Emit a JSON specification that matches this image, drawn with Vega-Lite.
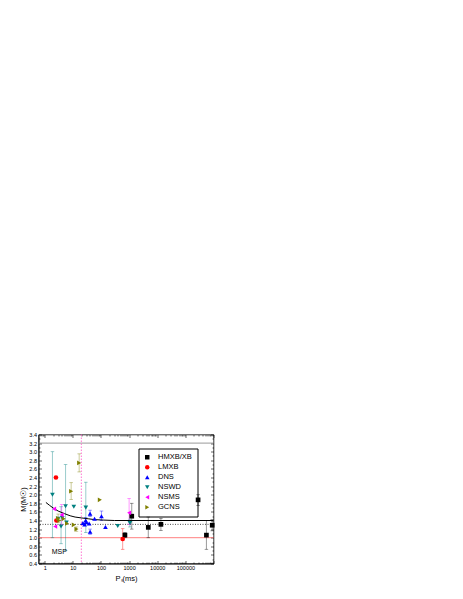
{
  "$schema": "https://vega.github.io/schema/vega-lite/v6.json",
  "width": 175,
  "height": 129,
  "autosize": {"type": "none"},
  "padding": {"left": 38.5, "top": 434.5, "right": 249.5, "bottom": 35.5},
  "background": "white",
  "config": {
    "view": {"stroke": "#000", "strokeWidth": 0.8},
    "font": "Liberation Sans",
    "axis": {"grid": false, "domainColor": "#000", "tickColor": "#000", "labelColor": "#000", "titleColor": "#000", "labelFont": "Liberation Sans", "titleFont": "Liberation Sans", "titleFontWeight": "normal", "labelFontSize": 5.5, "titleFontSize": 7.5, "domainWidth": 0.8, "tickWidth": 0.6}
  },
  "datasets": {
    "pts": [
      {"c": "HMXB/XB", "P": 710, "M": 1.06, "lo": 1.0, "hi": 1.12},
      {"c": "HMXB/XB", "P": 1240, "M": 1.5, "lo": 1.2, "hi": 1.8},
      {"c": "HMXB/XB", "P": 4800, "M": 1.24, "lo": 1.0, "hi": 1.48},
      {"c": "HMXB/XB", "P": 13500, "M": 1.31, "lo": 1.17, "hi": 1.45},
      {"c": "HMXB/XB", "P": 283000, "M": 1.88, "lo": 1.75, "hi": 2.0},
      {"c": "HMXB/XB", "P": 560000, "M": 1.06, "lo": 0.73, "hi": 1.4},
      {"c": "HMXB/XB", "P": 900000, "M": 1.29, "lo": 1.16, "hi": 1.42},
      {"c": "LMXB", "P": 2.5, "M": 2.4},
      {"c": "LMXB", "P": 2.6, "M": 1.4},
      {"c": "LMXB", "P": 590, "M": 0.97, "lo": 0.73, "hi": 1.21},
      {"c": "DNS", "P": 22.7, "M": 1.34},
      {"c": "DNS", "P": 26, "M": 1.31},
      {"c": "DNS", "P": 28.5, "M": 1.4, "lo": 1.33, "hi": 1.47},
      {"c": "DNS", "P": 30.5, "M": 1.36},
      {"c": "DNS", "P": 37.9, "M": 1.33},
      {"c": "DNS", "P": 40.9, "M": 1.56, "lo": 1.49, "hi": 1.64},
      {"c": "DNS", "P": 41, "M": 1.14, "lo": 1.08, "hi": 1.2},
      {"c": "DNS", "P": 59, "M": 1.44},
      {"c": "DNS", "P": 104, "M": 1.5, "lo": 1.4, "hi": 1.62},
      {"c": "DNS", "P": 144, "M": 1.25},
      {"c": "NSWD", "P": 1.88, "M": 2.0, "lo": 1.0, "hi": 3.0},
      {"c": "NSWD", "P": 2.95, "M": 1.44},
      {"c": "NSWD", "P": 3.8, "M": 1.26, "lo": 0.86, "hi": 1.72},
      {"c": "NSWD", "P": 4.2, "M": 1.46},
      {"c": "NSWD", "P": 5.5, "M": 1.73, "lo": 0.7, "hi": 2.7},
      {"c": "NSWD", "P": 5.9, "M": 1.35},
      {"c": "NSWD", "P": 10.8, "M": 1.72},
      {"c": "NSWD", "P": 28.85, "M": 1.7, "lo": 1.12, "hi": 2.29},
      {"c": "NSWD", "P": 394, "M": 1.27},
      {"c": "NSWD", "P": 1066, "M": 1.34, "lo": 1.25, "hi": 1.43},
      {"c": "NSMS", "P": 2.15, "M": 1.67},
      {"c": "NSMS", "P": 2.35, "M": 1.26},
      {"c": "NSMS", "P": 4.0, "M": 1.53, "lo": 1.3, "hi": 1.77},
      {"c": "NSMS", "P": 1000, "M": 1.58, "lo": 1.31, "hi": 1.91},
      {"c": "GCNS", "P": 16.76, "M": 2.74, "lo": 2.53, "hi": 2.95},
      {"c": "GCNS", "P": 8.7, "M": 2.08, "lo": 1.89, "hi": 2.28},
      {"c": "GCNS", "P": 91, "M": 1.88},
      {"c": "GCNS", "P": 10.8, "M": 1.3},
      {"c": "GCNS", "P": 13.4, "M": 1.2, "lo": 1.15, "hi": 1.25},
      {"c": "GCNS", "P": 3.3, "M": 1.4},
      {"c": "GCNS", "P": 4.7, "M": 1.44},
      {"c": "GCNS", "P": 6.2, "M": 1.33},
      {"c": "GCNS", "P": 3.0, "M": 1.45, "lo": 1.35, "hi": 1.55}
    ],
    "curve": [
      {"P": 1.1, "M": 1.82}, {"P": 1.5, "M": 1.75}, {"P": 2, "M": 1.69}, {"P": 3, "M": 1.62},
      {"P": 5, "M": 1.56}, {"P": 8, "M": 1.51}, {"P": 12, "M": 1.48}, {"P": 20, "M": 1.46},
      {"P": 35, "M": 1.44}, {"P": 60, "M": 1.42}, {"P": 120, "M": 1.41}, {"P": 300, "M": 1.4},
      {"P": 1000, "M": 1.4}, {"P": 1000000, "M": 1.4}
    ]
  },
  "layer": [
    {
      "data": {"values": [{"M": 3.2}]},
      "mark": {"type": "rule", "color": "#808080", "strokeWidth": 0.8},
      "encoding": {"y": {"field": "M", "type": "quantitative", "scale": {"domain": [0.4, 3.4], "nice": false, "zero": false}, "axis": null}}
    },
    {
      "data": {"values": [{"M": 1.0}]},
      "mark": {"type": "rule", "color": "#ff6060", "strokeWidth": 0.8},
      "encoding": {"y": {"field": "M", "type": "quantitative", "scale": {"domain": [0.4, 3.4], "nice": false, "zero": false}, "axis": null}}
    },
    {
      "data": {"values": [{"M": 1.31}]},
      "mark": {"type": "rule", "color": "#000", "strokeWidth": 0.7, "strokeDash": [1, 1.5]},
      "encoding": {"y": {"field": "M", "type": "quantitative", "scale": {"domain": [0.4, 3.4], "nice": false, "zero": false}, "axis": null}}
    },
    {
      "data": {"values": [{"P": 20}]},
      "mark": {"type": "rule", "color": "#ff66cc", "strokeWidth": 0.9, "strokeDash": [1.5, 1.5]},
      "encoding": {"x": {"field": "P", "type": "quantitative", "scale": {"type": "log", "domain": [0.6, 1000000], "nice": false}, "axis": null}}
    },
    {
      "data": {"name": "pts"},
      "transform": [{"filter": "isValid(datum.lo)"}],
      "mark": {"type": "rule", "strokeWidth": 0.8, "opacity": 0.5},
      "encoding": {
        "x": {"field": "P", "type": "quantitative", "scale": {"type": "log", "domain": [0.6, 1000000], "nice": false}, "axis": null},
        "y": {"field": "lo", "type": "quantitative", "scale": {"domain": [0.4, 3.4], "nice": false, "zero": false}, "axis": null},
        "y2": {"field": "hi"},
        "color": {"field": "c", "type": "nominal", "scale": {"domain": ["HMXB/XB", "LMXB", "DNS", "NSWD", "NSMS", "GCNS"], "range": ["#000000", "#ff0000", "#0000ff", "#008080", "#ff00ff", "#808000"]}, "legend": null}
      }
    },
    {
      "data": {"name": "pts"},
      "transform": [{"filter": "isValid(datum.lo)"}, {"fold": ["lo", "hi"], "as": ["k", "v"]}],
      "mark": {"type": "tick", "orient": "horizontal", "size": 3.5, "thickness": 0.8, "opacity": 0.5},
      "encoding": {
        "x": {"field": "P", "type": "quantitative", "scale": {"type": "log", "domain": [0.6, 1000000], "nice": false}, "axis": null},
        "y": {"field": "v", "type": "quantitative", "scale": {"domain": [0.4, 3.4], "nice": false, "zero": false}, "axis": null},
        "color": {"field": "c", "type": "nominal", "scale": {"domain": ["HMXB/XB", "LMXB", "DNS", "NSWD", "NSMS", "GCNS"], "range": ["#000000", "#ff0000", "#0000ff", "#008080", "#ff00ff", "#808000"]}, "legend": null}
      }
    },
    {
      "data": {"name": "curve"},
      "mark": {"type": "line", "color": "#000", "strokeWidth": 1},
      "encoding": {
        "x": {"field": "P", "type": "quantitative", "scale": {"type": "log", "domain": [0.6, 1000000], "nice": false},
          "axis": {"orient": "top", "labels": false, "title": null, "domain": false,
            "values": [0.7,0.8,0.9,1,2,3,4,5,6,7,8,9,10,20,30,40,50,60,70,80,90,100,200,300,400,500,600,700,800,900,1000,2000,3000,4000,5000,6000,7000,8000,9000,10000,20000,30000,40000,50000,60000,70000,80000,90000,100000,200000,300000,400000,500000,600000,700000,800000,900000,1000000],
            "tickSize": {"condition": {"test": "abs(log(datum.value)/LN10 - round(log(datum.value)/LN10)) < 0.001", "value": -3}, "value": -1.5}}},
        "y": {"field": "M", "type": "quantitative", "scale": {"domain": [0.4, 3.4], "nice": false, "zero": false},
          "axis": {"orient": "right", "labels": false, "title": null, "domain": false,
            "values": [0.4,0.5,0.6,0.7,0.8,0.9,1.0,1.1,1.2,1.3,1.4,1.5,1.6,1.7,1.8,1.9,2.0,2.1,2.2,2.3,2.4,2.5,2.6,2.7,2.8,2.9,3.0,3.1,3.2,3.3,3.4],
            "tickSize": {"condition": {"test": "round(datum.value*10) % 2 == 0", "value": -3}, "value": -1.5}}}
      }
    },
    {
      "data": {"name": "pts"},
      "mark": {"type": "point", "filled": true, "opacity": 1, "size": 22},
      "encoding": {
        "x": {"field": "P", "type": "quantitative", "scale": {"type": "log", "domain": [0.6, 1000000], "nice": false},
          "axis": {"orient": "bottom", "title": "Pₛ(ms)", "titlePadding": 3, "labelPadding": 5,
            "values": [0.7,0.8,0.9,1,2,3,4,5,6,7,8,9,10,20,30,40,50,60,70,80,90,100,200,300,400,500,600,700,800,900,1000,2000,3000,4000,5000,6000,7000,8000,9000,10000,20000,30000,40000,50000,60000,70000,80000,90000,100000,200000,300000,400000,500000,600000,700000,800000,900000,1000000],
            "labelExpr": "(abs(log(datum.value)/LN10 - round(log(datum.value)/LN10)) < 0.001 && datum.value < 500000) ? format(datum.value, 'd') : ''",
            "tickSize": {"condition": {"test": "abs(log(datum.value)/LN10 - round(log(datum.value)/LN10)) < 0.001", "value": -3}, "value": -1.5}}},
        "y": {"field": "M", "type": "quantitative", "scale": {"domain": [0.4, 3.4], "nice": false, "zero": false},
          "axis": {"orient": "left", "title": "M(M☉)", "titlePadding": 1.5, "labelPadding": 5,
            "values": [0.4,0.5,0.6,0.7,0.8,0.9,1.0,1.1,1.2,1.3,1.4,1.5,1.6,1.7,1.8,1.9,2.0,2.1,2.2,2.3,2.4,2.5,2.6,2.7,2.8,2.9,3.0,3.1,3.2,3.3,3.4],
            "labelExpr": "round(datum.value*10) % 2 == 0 ? format(datum.value, '.1f') : ''",
            "tickSize": {"condition": {"test": "round(datum.value*10) % 2 == 0", "value": -3}, "value": -1.5}}},
        "color": {"field": "c", "type": "nominal", "scale": {"domain": ["HMXB/XB", "LMXB", "DNS", "NSWD", "NSMS", "GCNS"], "range": ["#000000", "#ff0000", "#0000ff", "#008080", "#ff00ff", "#808000"]},
          "legend": {"orient": "none", "legendX": 100, "legendY": 14, "title": null, "labelFontSize": 7.5, "labelFont": "Liberation Sans", "symbolSize": 20, "strokeColor": "#000", "padding": 5, "rowPadding": 1, "labelOffset": 7, "symbolStrokeWidth": 0}},
        "shape": {"field": "c", "type": "nominal", "scale": {"domain": ["HMXB/XB", "LMXB", "DNS", "NSWD", "NSMS", "GCNS"], "range": ["square", "circle", "triangle-up", "triangle-down", "triangle-left", "triangle-right"]},
          "legend": {"orient": "none", "legendX": 100, "legendY": 14, "title": null, "labelFontSize": 7.5, "labelFont": "Liberation Sans", "symbolSize": 20, "strokeColor": "#000", "padding": 5, "rowPadding": 1, "labelOffset": 7, "symbolStrokeWidth": 0}}
      }
    },
    {
      "data": {"values": [{"P": 3.3, "M": 0.665, "t": "MSP"}]},
      "mark": {"type": "text", "fontSize": 7, "font": "Liberation Sans", "color": "#000"},
      "encoding": {
        "x": {"field": "P", "type": "quantitative", "scale": {"type": "log", "domain": [0.6, 1000000], "nice": false}, "axis": null},
        "y": {"field": "M", "type": "quantitative", "scale": {"domain": [0.4, 3.4], "nice": false, "zero": false}, "axis": null},
        "text": {"field": "t"}
      }
    }
  ],
  "resolve": {"axis": {"x": "independent", "y": "independent"}, "legend": {"color": "independent", "shape": "independent"}}
}
